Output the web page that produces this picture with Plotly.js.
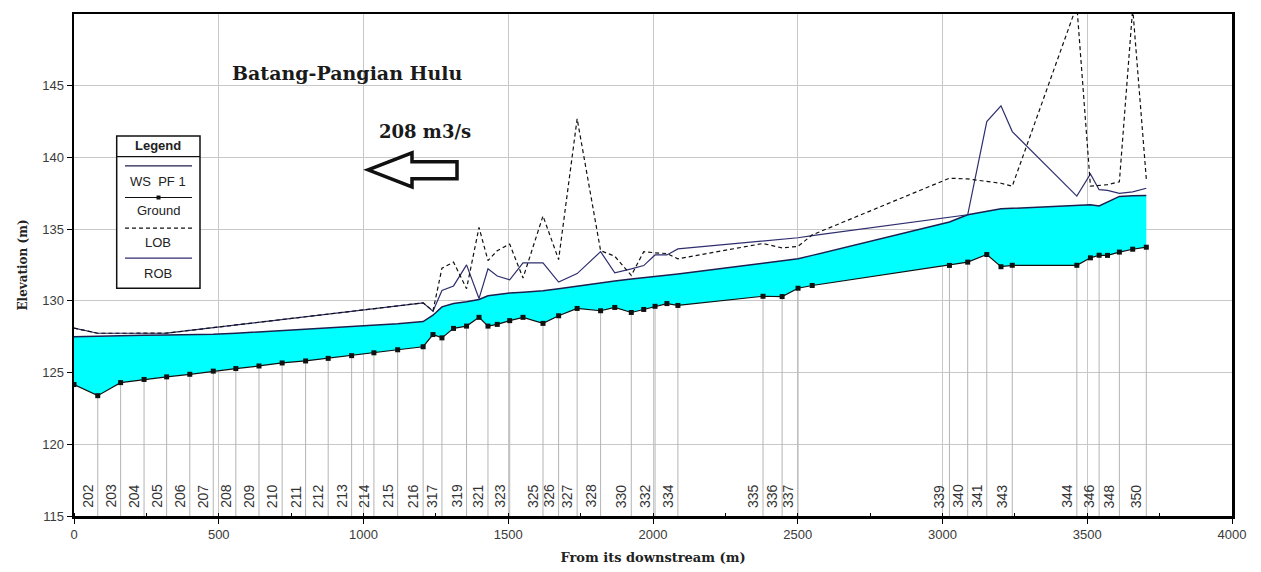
<!DOCTYPE html>
<html>
<head>
<meta charset="utf-8">
<script src="https://cdn.plot.ly/plotly-3.0.1.min.js"></script>
<style>
  html, body { margin: 0; padding: 0; background: #ffffff; }
  #chart { width: 1261px; height: 572px; }
</style>
</head>
<body>
<div id="chart"></div>
<script>
// ---- Data (distance from downstream in m) ----
const stations = [0, 82, 161, 242, 320, 400, 481, 559, 639, 719,
  800, 878, 959, 1036, 1118, 1206, 1240, 1271, 1311, 1356,
  1399, 1430, 1462, 1505, 1551, 1620, 1674, 1738, 1819, 1868,
  1925, 1968, 2007, 2048, 2086, 2380, 2446, 2501, 2550, 3024,
  3087, 3153, 3202, 3241, 3464, 3511, 3541, 3570, 3611, 3657,
  3704];

const stationLabels = ['', '202', '203', '204', '205', '206', '207', '208', '209', '210',
  '211', '212', '213', '214', '215', '216', '', '317', '', '319',
  '', '321', '', '323', '', '325', '326', '327', '328', '',
  '330', '', '332', '', '334', '335', '336', '337', '', '339',
  '340', '341', '', '343', '344', '', '346', '', '348', '',
  '350'];

const ground = [124.17, 123.39, 124.3, 124.52, 124.7, 124.88, 125.1, 125.28, 125.46, 125.67,
  125.81, 125.99, 126.18, 126.38, 126.59, 126.8, 127.65, 127.42, 128.08, 128.24,
  128.85, 128.24, 128.36, 128.62, 128.85, 128.43, 128.96, 129.47, 129.31, 129.54,
  129.19, 129.4, 129.62, 129.81, 129.68, 130.32, 130.3, 130.88, 131.07, 132.47,
  132.7, 133.23, 132.38, 132.48, 132.48, 133.0, 133.18, 133.17, 133.4, 133.6,
  133.74];

const wsPF1 = [127.5, 127.55, 127.57, 127.6, 127.62, 127.64, 127.67, 127.74, 127.83, 127.92,
  128.01, 128.1, 128.2, 128.3, 128.4, 128.56, 129.0, 129.58, 129.81, 129.93,
  130.1, 130.35, 130.45, 130.55, 130.6, 130.7, 130.85, 131.04, 131.26, 131.38,
  131.52, 131.62, 131.72, 131.8, 131.88, 132.62, 132.78, 132.93, 133.17, 135.5,
  136.0, 136.25, 136.42, 136.45, 136.68, 136.7, 136.62, 136.9, 137.28, 137.33,
  137.35];

const lob = [128.1, 127.74, 127.74, 127.74, 127.75, 127.94, 128.13, 128.32, 128.51, 128.7,
  128.9, 129.08, 129.28, 129.46, 129.66, 129.86, 129.3, 132.28, 132.7, 130.85,
  135.12, 132.81, 133.5, 133.96, 131.59, 135.92, 132.88, 142.7, 133.5, 133.11,
  131.77, 133.43, 133.35, 133.3, 132.93, 134.0, 133.69, 133.8, 134.6, 138.55,
  138.5, 138.3, 138.2, 138.0, 150.6, 138.0, 138.05, 138.1, 138.3, 150.4,
  138.5];

const rob = [128.1, 127.74, 127.74, 127.74, 127.75, 127.94, 128.13, 128.32, 128.51, 128.7,
  128.9, 129.08, 129.28, 129.46, 129.66, 129.86, 129.28, 130.73, 131.04, 132.51,
  130.16, 132.23, 131.73, 131.47, 132.65, 132.65, 131.31, 131.9, 133.43, 131.96,
  132.23, 132.46, 133.2, 133.2, 133.62, 134.15, 134.27, 134.4, 134.55, 135.8,
  136.0, 142.5, 143.6, 141.8, 137.3, 138.85, 137.75, 137.7, 137.5, 137.6,
  137.85];

const xTickVals = [0, 500, 1000, 1500, 2000, 2500, 3000, 3500, 4000];
const yTickVals = [115, 120, 125, 130, 135, 140, 145];

const chartTitle = 'Batang-Pangian Hulu';
const flowLabel = '208 m3/s';
const legendItems = ['WS  PF 1', 'Ground', 'LOB', 'ROB'];

// ---- Build traces ----
const yBottom = 115;
const lineX = [], lineY = [];
stations.forEach((s, i) => {
  if (stationLabels[i] !== '') {
    lineX.push(s, s, null);
    lineY.push(yBottom, ground[i], null);
  }
});

const traces = [
  { x: lineX, y: lineY, mode: 'lines', line: { color: '#b4b4b4', width: 1 }, hoverinfo: 'skip', showlegend: false },
  { x: stations, y: ground, mode: 'lines', line: { width: 0, color: 'rgba(0,0,0,0)' }, hoverinfo: 'skip', showlegend: false },
  { x: stations, y: wsPF1, mode: 'lines', name: 'WS PF 1', fill: 'tonexty', fillcolor: '#00ffff',
    line: { color: '#1c2050', width: 1.5 }, showlegend: false },
  { x: stations, y: rob, mode: 'lines', name: 'ROB', line: { color: '#2e2e6e', width: 1.2 }, showlegend: false },
  { x: stations, y: lob, mode: 'lines', name: 'LOB', line: { color: '#111111', width: 1.2, dash: '4px,3px' }, showlegend: false },
  { x: stations, y: ground, mode: 'lines+markers', name: 'Ground', line: { color: '#111111', width: 1.2 },
    marker: { symbol: 'square', size: 5, color: '#111111' }, showlegend: false }
];

// ---- Annotations ----
const annotations = [];
stations.forEach((s, i) => {
  if (stationLabels[i] !== '') {
    annotations.push({
      x: s, y: yBottom, xref: 'x', yref: 'y', text: stationLabels[i], textangle: -90,
      xanchor: 'right', yanchor: 'bottom', showarrow: false, yshift: 6, xshift: 0,
      font: { family: 'Liberation Sans, Arial, sans-serif', size: 14, color: '#333333' }
    });
  }
});

const serif = 'DejaVu Serif, serif';
annotations.push({ x: 0.2366, y: 0.8826, xref: 'paper', yref: 'paper', text: '<b>' + chartTitle + '</b>',
  showarrow: false, xanchor: 'center', yanchor: 'middle', font: { family: serif, size: 19, color: '#1a1a1a' } });
annotations.push({ x: 0.3031, y: 0.7652, xref: 'paper', yref: 'paper', text: '<b>' + flowLabel + '</b>',
  showarrow: false, xanchor: 'center', yanchor: 'middle', font: { family: serif, size: 18, color: '#1a1a1a' } });

// legend box (custom, pixel-matched layout)
const px2x = p => (p - 74) / 1158;
const px2y = p => (516.5 - p) / 502.5;
const lgL = px2x(116.7), lgR = px2x(200), lgT = px2y(136), lgB = px2y(288.5);
const lnL = px2x(125), lnR = px2x(192), lgC = px2x(158.3);
const sans = 'Liberation Sans, Arial, sans-serif';
annotations.push({ x: lgC, y: px2y(146), xref: 'paper', yref: 'paper', text: '<b>Legend</b>', showarrow: false,
  xanchor: 'center', yanchor: 'middle', font: { family: sans, size: 13, color: '#222' } });
const textYs = [181.7, 211, 242.7, 274];
legendItems.forEach((t, i) => {
  annotations.push({ x: lgC, y: px2y(textYs[i]), xref: 'paper', yref: 'paper', text: t, showarrow: false,
    xanchor: 'center', yanchor: 'middle', font: { family: sans, size: 13, color: '#222' } });
});

const shapes = [
  { type: 'rect', xref: 'paper', yref: 'paper', x0: lgL, x1: lgR, y0: lgB, y1: lgT,
    line: { color: '#111', width: 1.5 }, fillcolor: '#ffffff', layer: 'above' },
  { type: 'line', xref: 'paper', yref: 'paper', x0: lgL, x1: lgR, y0: px2y(156.7), y1: px2y(156.7),
    line: { color: '#111', width: 1.2 }, layer: 'above' },
  { type: 'line', xref: 'paper', yref: 'paper', x0: lnL, x1: lnR, y0: px2y(166), y1: px2y(166),
    line: { color: '#1c2050', width: 1.3 }, layer: 'above' },
  { type: 'line', xref: 'paper', yref: 'paper', x0: lnL, x1: lnR, y0: px2y(197.7), y1: px2y(197.7),
    line: { color: '#111', width: 1.2 }, layer: 'above' },
  { type: 'rect', xref: 'paper', yref: 'paper', x0: px2x(156.5), x1: px2x(160.5), y0: px2y(199.7), y1: px2y(195.7),
    line: { width: 0 }, fillcolor: '#111', layer: 'above' },
  { type: 'line', xref: 'paper', yref: 'paper', x0: lnL, x1: lnR, y0: px2y(228.3), y1: px2y(228.3),
    line: { color: '#111', width: 1.2, dash: '4px,3px' }, layer: 'above' },
  { type: 'line', xref: 'paper', yref: 'paper', x0: lnL, x1: lnR, y0: px2y(258.3), y1: px2y(258.3),
    line: { color: '#2e2e6e', width: 1.3 }, layer: 'above' },
  // hollow arrow pointing downstream (left)
  { type: 'path', xref: 'paper', yref: 'paper',
    path: 'M' + px2x(368) + ',' + px2y(170) + ' L' + px2x(412) + ',' + px2y(153) + ' L' + px2x(412) + ',' + px2y(162) +
          ' L' + px2x(457) + ',' + px2y(162) + ' L' + px2x(457) + ',' + px2y(179) + ' L' + px2x(412) + ',' + px2y(179) +
          ' L' + px2x(412) + ',' + px2y(187) + ' Z',
    line: { color: '#111', width: 3.5 }, fillcolor: '#ffffff', layer: 'above' }
];

const layout = {
  width: 1261, height: 572,
  margin: { l: 74, r: 29, t: 14, b: 56 },
  paper_bgcolor: '#ffffff', plot_bgcolor: '#ffffff',
  showlegend: false,
  font: { family: sans, size: 13, color: '#333' },
  xaxis: {
    range: [0, 4000], tickvals: xTickVals, ticktext: xTickVals.map(String),
    showgrid: true, gridcolor: '#c8c8c8', gridwidth: 1, zeroline: false,
    showline: true, linecolor: '#000', linewidth: 2.5, mirror: true,
    ticks: 'outside', ticklen: 5, tickcolor: '#000', tickwidth: 1,
    minor: { dtick: 250, ticks: 'inside', ticklen: 3, tickcolor: '#000', showgrid: false },
    tickfont: { family: sans, size: 13, color: '#3a3a3a' },
    title: { text: '<b>From its downstream (m)</b>', font: { family: serif, size: 13, color: '#222' }, standoff: 12 }
  },
  yaxis: {
    range: [115, 150], tickvals: yTickVals, ticktext: yTickVals.map(String),
    showgrid: true, gridcolor: '#c8c8c8', gridwidth: 1, zeroline: false,
    showline: true, linecolor: '#000', linewidth: 2.5, mirror: true,
    ticks: 'outside', ticklen: 5, tickcolor: '#000', tickwidth: 1,
    tickfont: { family: sans, size: 13, color: '#3a3a3a' },
    title: { text: '<b>Elevation (m)</b>', font: { family: serif, size: 12, color: '#222' }, standoff: 12 }
  },
  annotations: annotations,
  shapes: shapes
};

Plotly.newPlot('chart', traces, layout, { displayModeBar: false, staticPlot: true });
</script>
</body>
</html>
